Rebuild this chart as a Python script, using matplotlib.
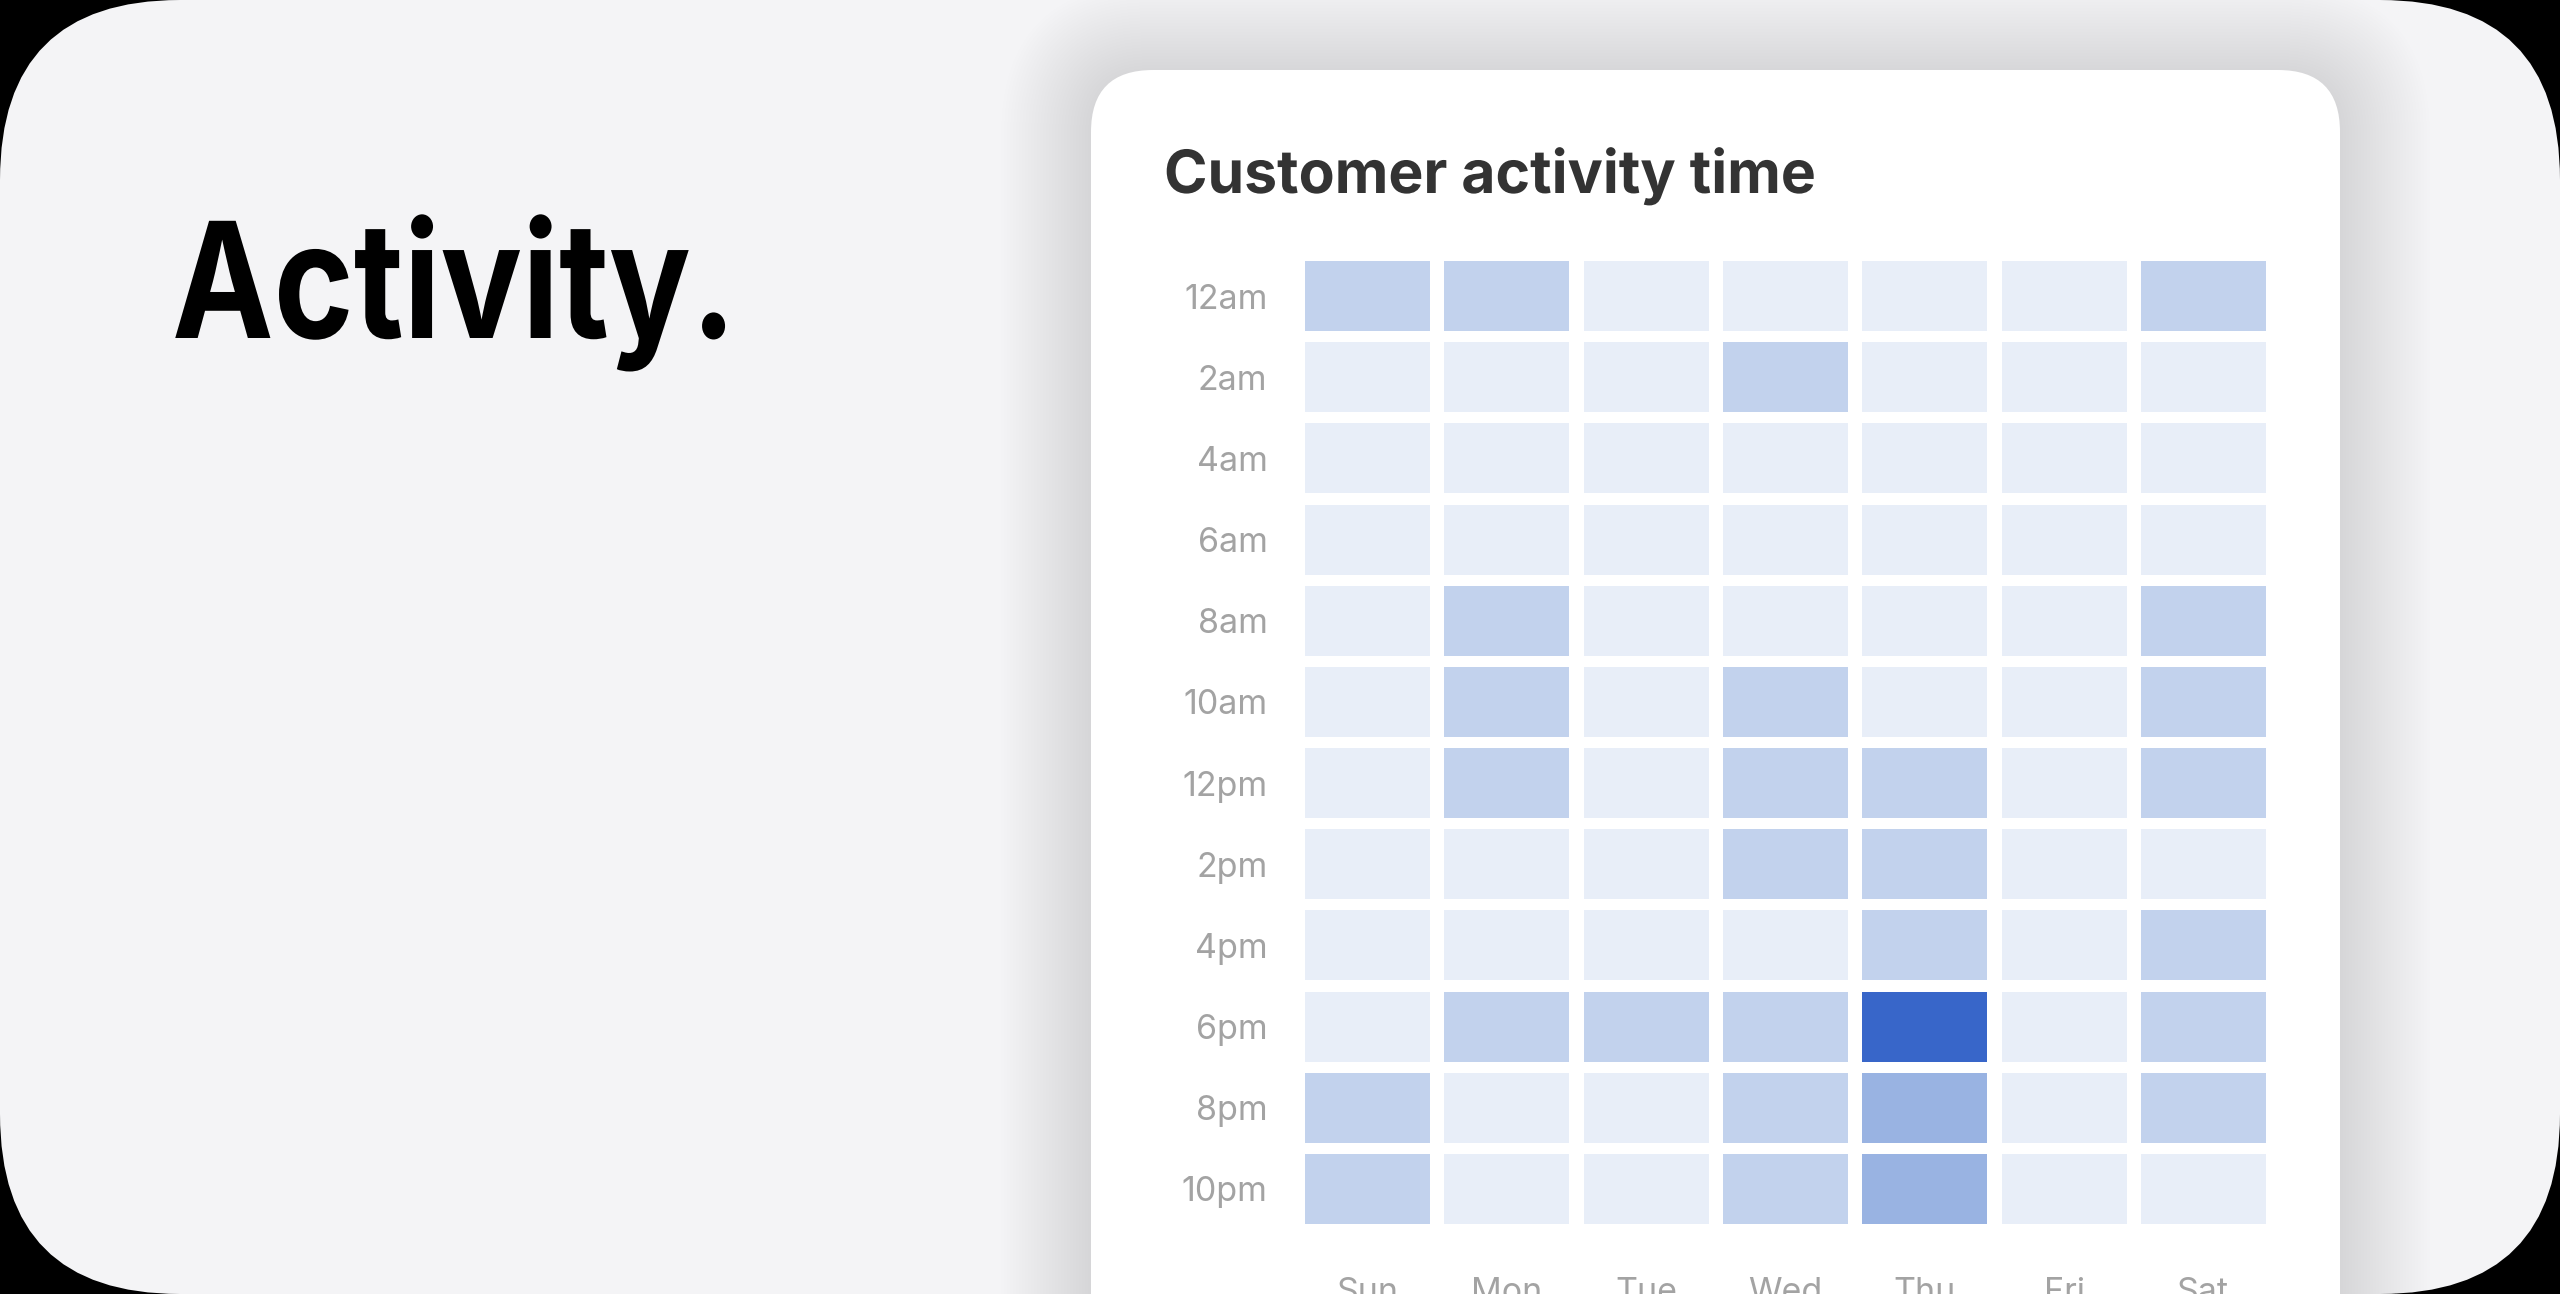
import matplotlib
matplotlib.use("Agg")
import matplotlib.pyplot as plt
from matplotlib.patches import FancyBboxPatch
from matplotlib.patheffects import AbstractPathEffect
from matplotlib.transforms import Affine2D

# data: activity level per 2-hour slot (rows) and weekday (cols)
days = ["Sun", "Mon", "Tue", "Wed", "Thu", "Fri", "Sat"]
hours = ["12am", "2am", "4am", "6am", "8am", "10am", "12pm", "2pm", "4pm", "6pm", "8pm", "10pm"]
levels = [
    [1, 1, 0, 0, 0, 0, 1],
    [0, 0, 0, 1, 0, 0, 0],
    [0, 0, 0, 0, 0, 0, 0],
    [0, 0, 0, 0, 0, 0, 0],
    [0, 1, 0, 0, 0, 0, 1],
    [0, 1, 0, 1, 0, 0, 1],
    [0, 1, 0, 1, 1, 0, 1],
    [0, 0, 0, 1, 1, 0, 0],
    [0, 0, 0, 0, 1, 0, 1],
    [0, 1, 1, 1, 3, 0, 1],
    [1, 0, 0, 1, 2, 0, 1],
    [1, 0, 0, 1, 2, 0, 0],
]
palette = ["#e8eef8", "#c2d2ed", "#99b3e2", "#3866c9"]


class Squeeze(AbstractPathEffect):
    # narrows glyphs horizontally (tight display tracking look)
    def __init__(self, sx):
        super().__init__()
        self.sx = sx

    def draw_path(self, renderer, gc, tpath, affine, rgbFace=None):
        renderer.draw_path(gc, tpath, Affine2D().scale(self.sx, 1) + affine, rgbFace)


W, H = 2560, 1294
fig = plt.figure(figsize=(W / 100, H / 100), dpi=100)
fig.patch.set_facecolor("black")

# background canvas in pixel coords (y down)
bg = fig.add_axes([0, 0, 1, 1])
bg.set_xlim(0, W)
bg.set_ylim(H, 0)
bg.axis("off")

outer = FancyBboxPatch((0, 0), W, H, boxstyle="round,pad=0,rounding_size=180",
                       fc="#f4f4f6", ec="none")
bg.add_patch(outer)

# card shadow
cx0, cy0, cx1, cy1 = 1091, 70, 2340, 1600
for i in range(30):
    d = 3 * (i + 1)
    sh = FancyBboxPatch((cx0 - d, cy0 - d + 4), cx1 - cx0 + 2 * d, cy1 - cy0 + 2 * d,
                        boxstyle="round,pad=0,rounding_size=%d" % (62 + d),
                        fc="black", ec="none", alpha=0.002)
    bg.add_patch(sh)
    sh.set_clip_path(outer)

card = FancyBboxPatch((cx0, cy0), cx1 - cx0, cy1 - cy0,
                      boxstyle="round,pad=0,rounding_size=62", fc="white", ec="none")
bg.add_patch(card)

bg.text(172, 338, "Activity.", fontsize=116, fontweight="bold", family="Inter",
        color="black", va="baseline", ha="left", path_effects=[Squeeze(0.845)])
bg.text(1164, 193, "Customer activity time", fontsize=43, fontweight="bold",
        family="Inter", color="#333333", va="baseline", ha="left",
        path_effects=[Squeeze(0.985)])

# heatmap
ax = fig.add_axes([1298 / W, (H - 1229.5) / H, 975 / W, 974 / H])
ax.set_facecolor("none")
for r, row in enumerate(levels):
    ax.bar(range(len(days)), 0.862, bottom=[r - 0.431] * len(days), width=0.897,
           color=[palette[v] for v in row], linewidth=0)
ax.set_xlim(-0.5, len(days) - 0.5)
ax.set_ylim(len(hours) - 0.5, -0.5)
ax.set_yticks(range(len(hours)))
ax.set_yticklabels(hours)
ax.set_xticks(range(len(days)))
ax.set_xticklabels(days)
ax.tick_params(length=0, labelsize=24.5, labelcolor="#a3a3a3")
ax.tick_params(axis="y", pad=22)
ax.tick_params(axis="x", pad=34)
for lab in ax.get_xticklabels() + ax.get_yticklabels():
    lab.set_family("Inter")
for s in ax.spines.values():
    s.set_visible(False)

fig.savefig("out.png", dpi=100, facecolor=fig.get_facecolor())
